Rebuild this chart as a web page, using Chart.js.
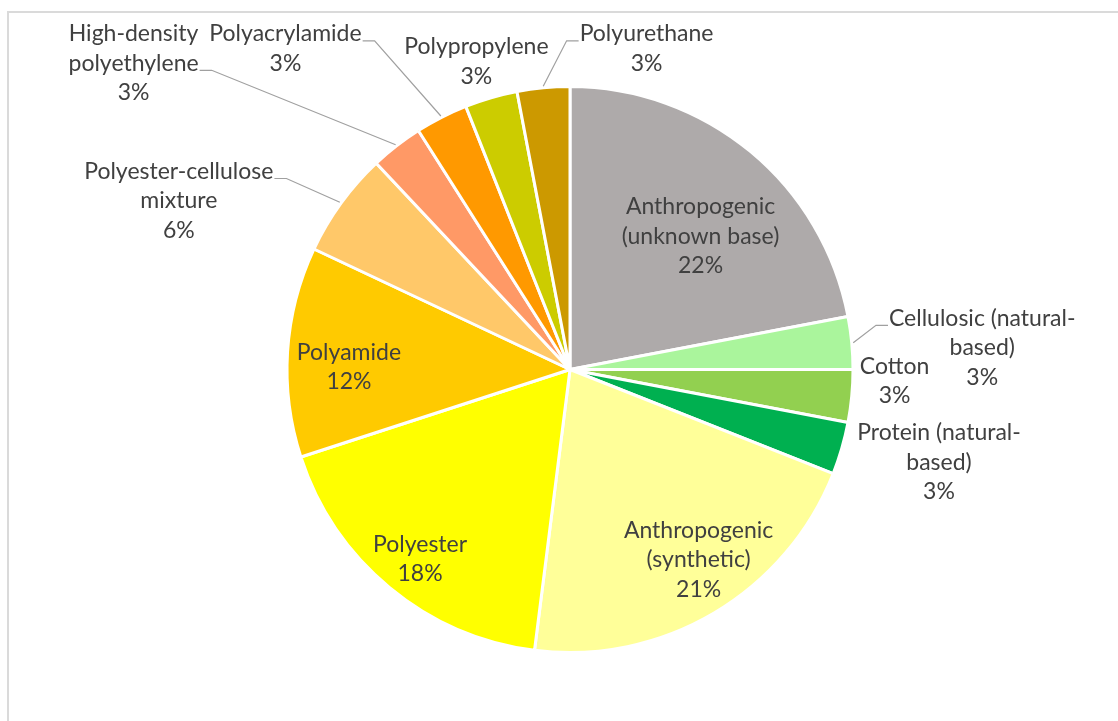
<!DOCTYPE html>
<html>
<head>
<meta charset="utf-8">
<title>Fibre types</title>
<script src="https://cdn.jsdelivr.net/npm/chart.js@4.4.1/dist/chart.umd.min.js"></script>
<style>
  html, body { margin: 0; padding: 0; background: #fff; }
  #wrap { position: relative; width: 1118px; height: 721px; overflow: hidden; }
  #frame { position: absolute; left: 7px; top: 11px; right: -2px; bottom: -2px;
           border-left: 2px solid #dadada; border-top: 2px solid #dadada; }
  #chartFibres { position: absolute; left: 0; top: 0; }
</style>
</head>
<body>
<div id="wrap">
  <div id="frame"></div>
  <canvas id="chartFibres" width="1118" height="721"></canvas>
</div>
<script>
// fibre categories, clockwise from 12 o'clock
const categories = [
  'Anthropogenic (unknown base)',
  'Cellulosic (natural-based)',
  'Cotton',
  'Protein (natural-based)',
  'Anthropogenic (synthetic)',
  'Polyester',
  'Polyamide',
  'Polyester-cellulose mixture',
  'High-density polyethylene',
  'Polyacrylamide',
  'Polypropylene',
  'Polyurethane'
];
// share of fibres, %
const shares = [22, 3, 3, 3, 21, 18, 12, 6, 3, 3, 3, 3];

// how each name wraps on the chart
const nameLines = [
  ['Anthropogenic', '(unknown base)'],
  ['Cellulosic (natural-', 'based)'],
  ['Cotton'],
  ['Protein (natural-', 'based)'],
  ['Anthropogenic', '(synthetic)'],
  ['Polyester'],
  ['Polyamide'],
  ['Polyester-cellulose', 'mixture'],
  ['High-density', 'polyethylene'],
  ['Polyacrylamide'],
  ['Polypropylene'],
  ['Polyurethane']
];

const sliceColors = [
  '#aeaaaa', '#aaf59c', '#92d050', '#00b050', '#ffff99', '#ffff00',
  '#ffca00', '#ffc869', '#ff9966', '#ff9900', '#cccc00', '#cc9900'
];

// label block placement (first line centre), in units of pie radius from the centre
const labelSpots = [
  [0.459, -0.572], [1.449, -0.180], [1.141, -0.011], [1.297, 0.223],
  [0.452, 0.565], [-0.527, 0.615], [-0.777, -0.060], [-1.375, -0.696],
  [-1.534, -1.180], [-1.0, -1.180], [-0.329, -1.134], [0.269, -1.180]
];
// leader lines: which side of which text line they leave from
const leaders = [
  null, {side: 'left', line: 0}, null, null, null, null, null,
  {side: 'right', line: 0}, {side: 'right', line: 1}, {side: 'right', line: 0},
  null, {side: 'left', line: 0}
];

const LINE_GAP = 29.5;

const sliceLabels = {
  id: 'sliceLabels',
  afterDatasetsDraw(chart) {
    const ctx = chart.ctx;
    const arcs = chart.getDatasetMeta(0).data;
    ctx.save();
    ctx.font = '23px Lato';
    ctx.textAlign = 'center';
    ctx.textBaseline = 'middle';
    arcs.forEach((arc, i) => {
      const p = arc.getProps(['x', 'y', 'startAngle', 'endAngle', 'outerRadius'], true);
      const R = p.outerRadius + 1.5;
      const lx = p.x + labelSpots[i][0] * R;
      const ly = p.y + labelSpots[i][1] * R;
      const lines = nameLines[i].concat([shares[i] + '%']);

      const lead = leaders[i];
      if (lead) {
        const w = ctx.measureText(lines[lead.line]).width;
        const dir = lead.side === 'left' ? -1 : 1;
        const sx = lx + dir * (w / 2 + 1);
        const sy = ly + lead.line * LINE_GAP + 7;
        const ex = sx + dir * 12;
        const mid = (p.startAngle + p.endAngle) / 2;
        ctx.beginPath();
        ctx.moveTo(sx, sy);
        ctx.lineTo(ex, sy);
        ctx.lineTo(p.x + Math.cos(mid) * R, p.y + Math.sin(mid) * R);
        ctx.strokeStyle = '#a0a0a0';
        ctx.lineWidth = 1.2;
        ctx.stroke();
      }

      ctx.fillStyle = '#404040';
      lines.forEach((t, k) => ctx.fillText(t, lx, ly + k * LINE_GAP));
    });
    ctx.restore();
  }
};

new Chart(document.getElementById('chartFibres'), {
  type: 'pie',
  data: {
    labels: categories,
    datasets: [{
      data: shares,
      backgroundColor: sliceColors,
      borderColor: '#ffffff',
      borderWidth: 3
    }]
  },
  options: {
    responsive: false,
    animation: false,
    layout: {
      padding: {left: 22, right: 0, top: 85, bottom: 67}
    },
    plugins: {
      legend: {display: false},
      tooltip: {enabled: false}
    }
  },
  plugins: [sliceLabels]
});
</script>
</body>
</html>
